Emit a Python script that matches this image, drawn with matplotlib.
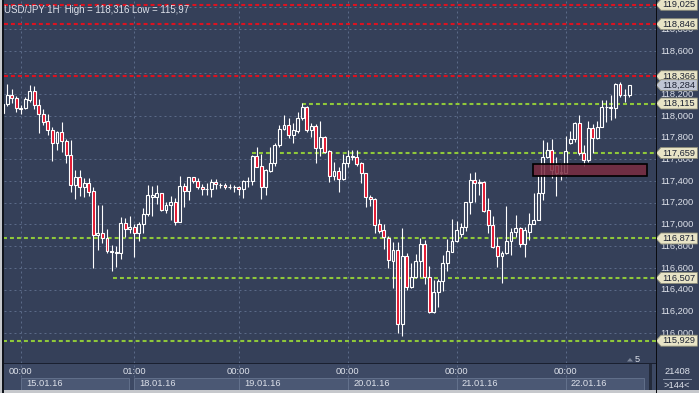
import matplotlib
matplotlib.use("Agg")
import matplotlib.pyplot as plt
import numpy as np
from matplotlib.patches import Rectangle, Polygon
from matplotlib.transforms import blended_transform_factory

# hourly candles, USD/JPY 14.01.16 20:00 .. 22.01.16
opens = [118.030, 118.108, 118.193, 118.163, 118.071, 118.071, 118.147, 118.227, 118.098, 118.016,
         117.954, 117.868, 117.748, 117.852, 117.769, 117.638, 117.361, 117.435, 117.348, 117.379,
         117.306, 116.900, 116.919, 116.878, 116.758, 116.740, 116.740, 117.011, 116.961, 116.974,
         116.919, 117.004, 117.094, 117.256, 117.256, 117.287, 117.133, 117.177, 117.204, 117.026,
         117.352, 117.311, 117.435, 117.404, 117.343, 117.324, 117.324, 117.394, 117.367, 117.361,
         117.345, 117.350, 117.343, 117.324, 117.399, 117.401, 117.631, 117.539, 117.348, 117.496,
         117.564, 117.730, 117.877, 117.914, 117.822, 117.865, 117.979, 118.080, 117.871, 117.908,
         117.702, 117.804, 117.677, 117.449, 117.496, 117.416, 117.564, 117.631, 117.619, 117.564,
         117.472, 117.250, 117.232, 117.004, 116.949, 116.873, 116.666, 116.765, 116.080, 116.710,
         116.421, 116.513, 116.666, 116.817, 116.513, 116.191, 116.375, 116.479, 116.642, 116.749,
         116.848, 116.912, 116.974, 117.207, 117.410, 117.385, 117.389, 117.133, 116.995, 116.802,
         116.712, 116.734, 116.848, 116.928, 116.965, 116.817, 116.933, 117.002, 117.041, 117.287,
         117.619, 117.686, 117.548, 117.474, 117.477, 117.748, 117.785, 117.932, 117.656, 117.594,
         117.886, 117.794, 117.901, 118.086, 118.076, 118.076, 118.295, 118.193, 118.193]
highs = [118.120, 118.295, 118.246, 118.184, 118.101, 118.172, 118.286, 118.276, 118.154, 118.062,
         118.018, 117.901, 117.862, 117.945, 117.788, 117.779, 117.502, 117.502, 117.425, 117.425,
         117.343, 117.180, 117.180, 116.956, 116.811, 116.802, 117.072, 117.057, 117.078, 117.004,
         117.026, 117.155, 117.364, 117.355, 117.364, 117.293, 117.210, 117.262, 117.247, 117.447,
         117.379, 117.441, 117.441, 117.425, 117.373, 117.379, 117.416, 117.416, 117.385, 117.385,
         117.373, 117.364, 117.355, 117.410, 117.441, 117.640, 117.717, 117.650, 117.508, 117.711,
         117.754, 117.917, 118.009, 117.979, 117.938, 118.034, 118.122, 118.092, 117.932, 117.926,
         117.951, 117.815, 117.686, 117.579, 117.533, 117.650, 117.686, 117.686, 117.686, 117.576,
         117.477, 117.272, 117.241, 117.048, 117.004, 116.894, 116.841, 116.841, 116.965, 116.734,
         116.642, 116.728, 116.872, 116.857, 116.617, 116.488, 116.495, 116.719, 116.863, 117.050,
         117.032, 117.011, 117.210, 117.472, 117.487, 117.416, 117.404, 117.244, 117.078, 116.888,
         116.758, 117.173, 116.965, 117.087, 116.974, 116.974, 117.103, 117.287, 117.447, 117.779,
         117.763, 117.785, 117.625, 117.564, 117.815, 117.865, 117.947, 118.009, 117.733, 117.954,
         117.923, 117.954, 118.147, 118.147, 118.193, 118.307, 118.316, 118.246, 118.290]
lows = [118.020, 118.092, 118.117, 118.040, 118.016, 118.064, 118.132, 118.062, 117.846, 117.917,
        117.825, 117.588, 117.686, 117.668, 117.564, 117.302, 117.232, 117.262, 117.256, 117.262,
        116.596, 116.765, 116.826, 116.740, 116.570, 116.611, 116.682, 116.887, 116.919, 116.703,
        116.850, 116.919, 117.081, 117.081, 117.189, 117.127, 117.103, 117.041, 116.995, 117.020,
        117.158, 117.226, 117.379, 117.324, 117.272, 117.272, 117.250, 117.327, 117.333, 117.324,
        117.327, 117.297, 117.272, 117.241, 117.343, 117.364, 117.527, 117.232, 117.272, 117.487,
        117.539, 117.717, 117.871, 117.794, 117.754, 117.840, 117.963, 117.855, 117.804, 117.564,
        117.631, 117.662, 117.394, 117.410, 117.302, 117.410, 117.533, 117.594, 117.539, 117.379,
        117.158, 117.170, 116.924, 116.924, 116.771, 116.596, 116.412, 116.003, 115.970, 116.396,
        116.412, 116.510, 116.519, 116.451, 116.185, 116.185, 116.237, 116.390, 116.574, 116.745,
        116.841, 116.888, 116.943, 117.097, 117.210, 117.272, 117.118, 116.924, 116.780, 116.611,
        116.463, 116.730, 116.719, 116.888, 116.795, 116.703, 116.857, 117.000, 117.040, 117.226,
        117.610, 117.425, 117.263, 117.410, 117.472, 117.745, 117.763, 117.640, 117.539, 117.579,
        117.662, 117.785, 117.900, 117.947, 117.963, 117.984, 118.172, 118.132, 118.172]
closes = [118.108, 118.193, 118.163, 118.071, 118.068, 118.154, 118.227, 118.098, 118.016, 117.947,
          117.871, 117.748, 117.855, 117.767, 117.638, 117.361, 117.435, 117.348, 117.379, 117.302,
          116.900, 116.919, 116.878, 116.758, 116.749, 116.749, 117.011, 116.961, 116.974, 116.919,
          117.004, 117.094, 117.269, 117.269, 117.287, 117.133, 117.177, 117.204, 117.026, 117.352,
          117.311, 117.435, 117.404, 117.343, 117.324, 117.330, 117.394, 117.370, 117.364, 117.343,
          117.350, 117.346, 117.324, 117.401, 117.403, 117.631, 117.533, 117.348, 117.502, 117.564,
          117.730, 117.877, 117.914, 117.822, 117.871, 117.979, 118.086, 117.871, 117.908, 117.702,
          117.804, 117.671, 117.449, 117.496, 117.422, 117.564, 117.631, 117.619, 117.557, 117.472,
          117.250, 117.238, 116.995, 116.943, 116.882, 116.670, 116.765, 116.080, 116.710, 116.421,
          116.513, 116.666, 116.817, 116.513, 116.191, 116.375, 116.479, 116.642, 116.756, 116.848,
          116.949, 116.974, 117.207, 117.410, 117.385, 117.392, 117.127, 116.995, 116.795, 116.712,
          116.734, 116.848, 116.928, 116.965, 116.817, 116.949, 117.002, 117.041, 117.287, 117.619,
          117.686, 117.502, 117.477, 117.486, 117.680, 117.785, 117.932, 117.656, 117.594, 117.886,
          117.794, 117.901, 118.086, 118.083, 118.086, 118.295, 118.193, 118.190, 118.284]

title = "USD/JPY 1H  High = 118,316 Low = 115,97"
red_levels = [119.025, 118.846, 118.366]
green_levels = [118.115, 117.659, 116.871, 116.507, 115.929]
green_starts = [65.9, 54.9, 0.0, 24.3, 0.0]
last_price = 118.284
zone_x = (116.9, 142.0)
zone_y = (117.450, 117.555)
grid_levels = [116.0, 116.2, 116.4, 116.6, 116.8, 117.0, 117.2, 117.4, 117.6,
               117.8, 118.0, 118.2, 118.4, 118.6, 118.8, 119.0]
# scale labels that are not fully covered by a level tag
price_labels = [116.0, 116.2, 116.4, 116.6, 116.8, 117.0, 117.2, 117.4, 117.6,
                117.8, 118.0, 118.2, 118.6, 118.8]
day_bars = [4, 29, 52, 76, 100, 124]
day_ends = [27.9, 52, 76, 100, 124, 141.2]
day_times = ["00:00", "01:00", "00:00", "00:00", "00:00", "00:00"]
day_dates = ["15.01.16", "18.01.16", "19.01.16", "20.01.16", "21.01.16", "22.01.16"]

BG = "#354059"
STRIP = "#3d4964"
BOX = "#4b5874"
GRID = "#5b6a88"
TXT = "#dde1ea"
W, H = 699, 393
FS = 6.7


def px(x, y):
    """pixel coords (top-left origin) -> figure fraction"""
    return x / W, 1 - y / H


fig = plt.figure(figsize=(W / 100, H / 100), dpi=100)
fig.patch.set_facecolor(BG)

# main price panel
ax = fig.add_axes([4 / W, 1 - 363 / H, 652 / W, 363 / H])
ax.set_facecolor(BG)
for s in ax.spines.values():
    s.set_visible(False)
ax.set_xticks([])
ax.set_yticks([])
ax.set_xlim(0.32, 143.93)
ax.set_ylim(119.069 - 363 / 108.5, 119.069)

# grid
for v in grid_levels:
    ax.axhline(v, color=GRID, lw=0.75, ls=(0, (1.9, 2.9)), zorder=1)
for b in day_bars:
    ax.axvline(b, color=GRID, lw=0.75, ls=(0, (1.9, 2.9)), zorder=1)

# levels
for v in red_levels:
    ax.axhline(v, color="#dc1220", lw=1.5, ls=(0, (1.9, 1.45)), zorder=2)
for v, s in zip(green_levels, green_starts):
    ax.hlines(v, s, 143.93, color="#8fc83a", lw=1.5, ls=(0, (1.9, 1.45)), zorder=2)

# candles
o = np.array(opens)
c = np.array(closes)
x = np.arange(len(o))
ax.vlines(x, lows, highs, color="white", lw=0.8, zorder=3)
body = np.maximum(np.abs(c - o), 0.001)
cols = np.where(c < o, "#e3132c", BG)
ax.bar(x, body, bottom=np.minimum(o, c), width=0.64, color=cols,
       edgecolor="white", linewidth=0.8, zorder=4)

# zone box
ax.add_patch(Rectangle((zone_x[0], zone_y[0]), zone_x[1] - zone_x[0], zone_y[1] - zone_y[0],
                       facecolor="#7a2b40", alpha=0.85, edgecolor="none", zorder=5))
ax.add_patch(Rectangle((zone_x[0], zone_y[0]), zone_x[1] - zone_x[0], zone_y[1] - zone_y[0],
                       fill=False, edgecolor="black", lw=1.2, zorder=5))

# right price scale
tr = blended_transform_factory(ax.transAxes, ax.transData)
for v in price_labels:
    ax.text(1.0065, v, f"{v:.3f}".replace(".", ","), transform=tr, color=TXT,
            fontsize=FS, family="Liberation Sans", va="center", ha="left", clip_on=False, zorder=6)

hh = 5.5 / 108.5


def tag(v, face):
    pts = [(1.0, v), (1.0075, v + hh), (1.0635, v + hh), (1.0635, v - hh), (1.0075, v - hh)]
    ax.add_patch(Polygon(pts, closed=True, transform=tr, facecolor=face, edgecolor="#8e8e7a",
                         lw=0.6, clip_on=False, zorder=7))
    ax.text(1.0095, v, f"{v:.3f}".replace(".", ","), transform=tr, color="#1c2233",
            fontsize=FS, family="Liberation Sans", va="center", ha="left", clip_on=False, zorder=8)


for v in red_levels + green_levels:
    tag(v, "#e8e4c6")
tag(last_price, "#bfc5d4")

fig.text(*px(4, 10), title, color=TXT, fontsize=6.9, family="Liberation Sans", va="center")

# bottom time strip
bx = fig.add_axes([4 / W, 1 - 390 / H, 652 / W, 27 / H])
bx.set_facecolor(STRIP)
for s in bx.spines.values():
    s.set_visible(False)
bx.set_xticks([])
bx.set_yticks([])
bx.set_xlim(0.32, 143.93)
bx.set_ylim(0, 1)
for b, e, t, d in zip(day_bars, day_ends, day_times, day_dates):
    bx.add_patch(Rectangle((b, 0), e - b, 0.46, facecolor=BOX, edgecolor="#66748f", lw=0.6))
    bx.axvline(b, 0.5, 1, color=GRID, lw=0.75, ls=(0, (1.9, 2.9)))
    bx.text(b, 0.67, t, color=TXT, fontsize=FS, family="Liberation Sans", ha="center", va="center")
    bx.text(b + 1.2, 0.25, d, color=TXT, fontsize=FS, family="Liberation Sans", ha="left", va="center")

# frame pieces
fig.add_artist(Rectangle(px(649, 390), 3 / W, 27 / H, color="#232a3a", lw=0))
fig.add_artist(Rectangle((0, 0), 1, 3 / H, color="#c6c8cc", lw=0))
fig.add_artist(Rectangle((0, 0), 2 / W, 1, color="#c6c8cc", lw=0))
fig.add_artist(Rectangle(px(2, 393), 1.5 / W, 1, color="#10141c", lw=0))
fig.add_artist(Rectangle(px(4, 363.5), 652 / W, 1 / H, color="#1a2030", lw=0))
fig.add_artist(Rectangle(px(655.5, 393), 1.2 / W, 1, color="#0a0c10", lw=0))

# shift marker and bar counters
fig.add_artist(Polygon([px(627, 361.5), px(633, 361.5), px(630, 358)], closed=True,
                       color="#7d879a", lw=0))
fig.text(*px(635, 359), "5", color=TXT, fontsize=FS, family="Liberation Sans", va="center")
fig.text(*px(677, 372), "21408", color=TXT, fontsize=FS, family="Liberation Sans",
         ha="center", va="center")
fig.add_artist(Rectangle(px(663, 379.5), 29 / W, 0.8 / H, color="#8a94a8", lw=0))
fig.text(*px(677, 385.5), ">144<", color=TXT, fontsize=FS, family="Liberation Sans",
         ha="center", va="center")

fig.savefig("out.png", dpi=100, facecolor=fig.get_facecolor())
